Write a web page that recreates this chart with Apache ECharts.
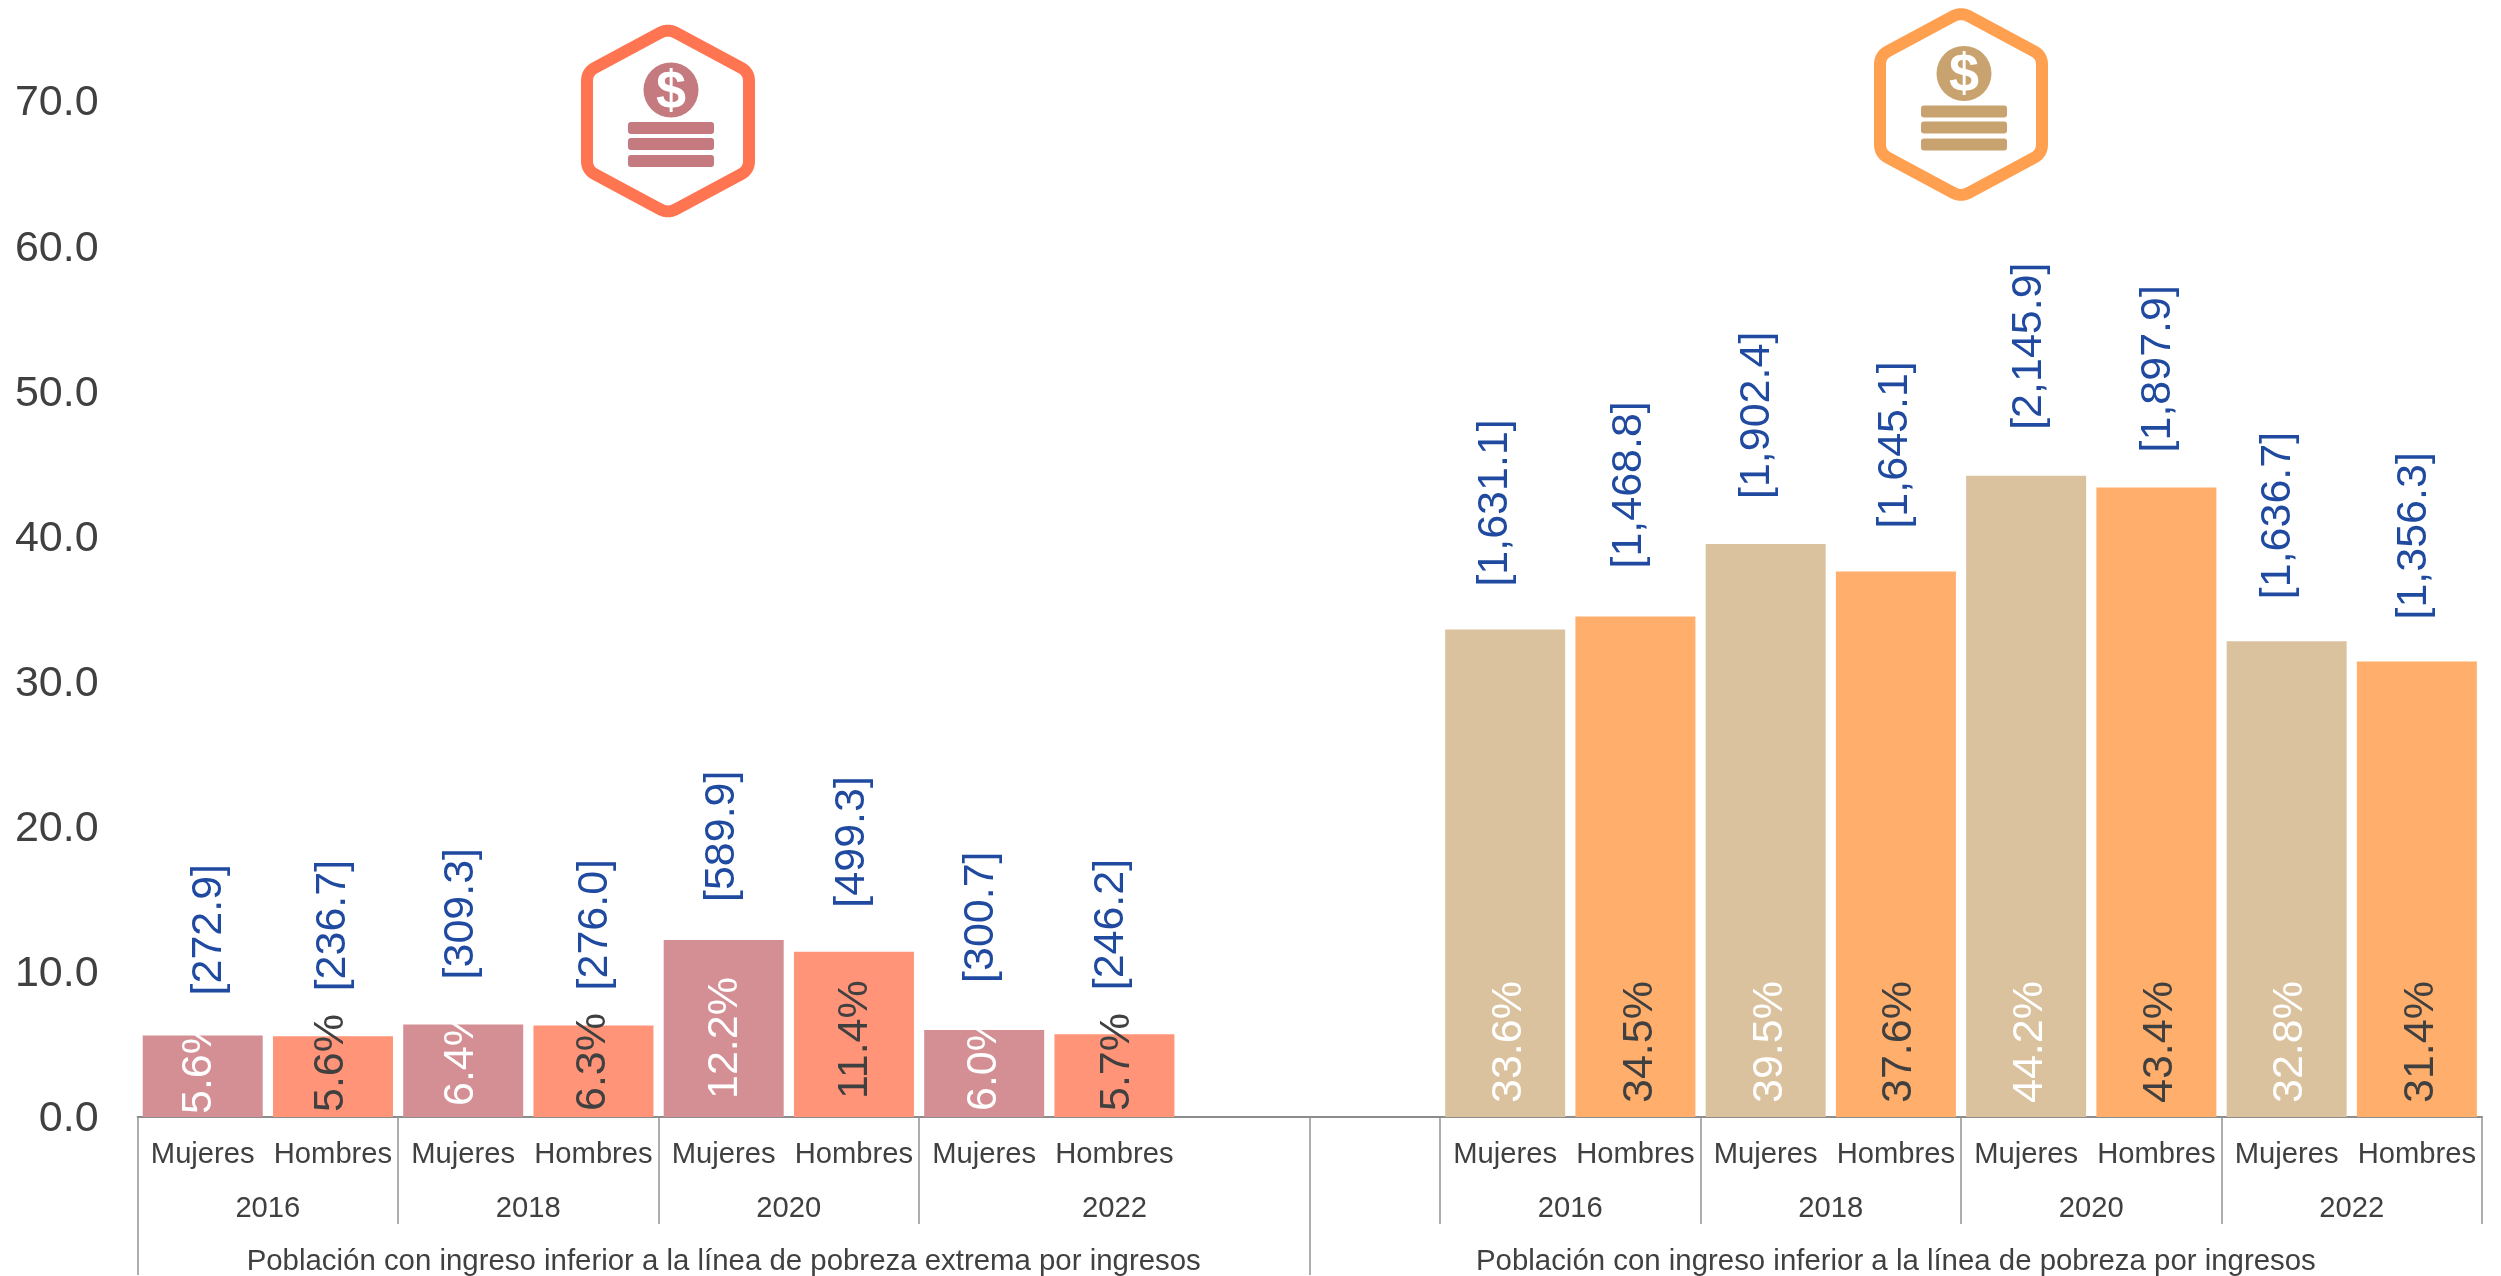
<!DOCTYPE html>
<html><head><meta charset="utf-8">
<style>html,body{margin:0;padding:0;background:#fff}#c{width:2501px;height:1276px}</style>
<script src="https://cdn.jsdelivr.net/npm/echarts@6/dist/echarts.min.js"></script>
</head><body><div id="c"></div>
<script>
const sexes = ['Mujeres','Hombres'];
const years = ['2016','2018','2020','2022'];
const groupNames = ['Población con ingreso inferior a la línea de pobreza extrema por ingresos','Población con ingreso inferior a la línea de pobreza por ingresos'];
const extremePct = [5.62,5.56,6.38,6.31,12.2,11.4,6.0,5.7];
const povertyPct = [33.6,34.5,39.5,37.6,44.2,43.4,32.8,31.4];
const extremePop = ['272.9','236.7','309.3','276.0','589.9','499.3','300.7','246.2'];
const povertyPop = ['1,631.1','1,468.8','1,902.4','1,645.1','2,145.9','1,897.9','1,636.7','1,356.3'];
const colors = {exW:'#D48F94',exM:'#FF9479',poW:'#DBC29E',poM:'#FFAE6B'};
// label placement (px): gap above bar, sideways shift, inset from the baseline
const popGap = [40,45,45,35,38,44,47,44, 43,48,45,43,46,35,42,42];
const popShift = [6,0,-2,2,-2,-2,-3,-3, -10,-6,-9,-1,3,2,-8,-3];
const pctInset = [3,5,11,6,18,18,6,6, 14,14,14,14,14,14,14,14];
const pctShift = [-4,-2,-2,0,1,1,0,3, 4,5,4,3,4,4,4,4];

const blank = [null,null];
const values = [...extremePct,...blank,...povertyPct];
const pops = [...extremePop,...blank,...povertyPop];
const cats = [];
for (let i=0;i<4;i++) cats.push(...sexes);
const catsAll = [...cats,'','',...cats];
const barColor = i => i<8 ? (i%2?colors.exM:colors.exW) : (i%2?colors.poM:colors.poW);
const font = 'Liberation Sans, Arial, sans-serif';
const textCol = '#404040', lineCol = '#929292';

let k=-1;
const mainData = values.map((v,i)=>{
  if(v===null) return null;
  k++;
  return {value:v,itemStyle:{color:barColor(i)},label:{distance:pctInset[k],offset:[0,pctShift[k]],color:(k%2)?textCol:'#FFFFFF',
    formatter:v.toFixed(1)+'%'}};
});
let j=-1;
const popData = values.map((v,i)=>{
  if(v===null) return null;
  j++;
  return {value:v,label:{distance:popGap[j],offset:[0,popShift[j]],formatter:'['+pops[i]+']'}};
});
const yearCenters=[1,3,5,7.5,11,13,15,17];
const yearOf={}; yearCenters.forEach((c,i)=>yearOf[c]=years[i%4]);
const groupCenters=[4.5,13.5];
const groupOf={}; groupCenters.forEach((c,i)=>groupOf[c]=groupNames[i]);

function roundedHex(pts,cut){
  const out=[];
  const n=pts.length;
  pts.forEach((p,i)=>{
    const a=pts[(i+n-1)%n], b=pts[(i+1)%n];
    const la=Math.hypot(a[0]-p[0],a[1]-p[1]), lb=Math.hypot(b[0]-p[0],b[1]-p[1]);
    const s=[p[0]+(a[0]-p[0])*cut/la,p[1]+(a[1]-p[1])*cut/la], e=[p[0]+(b[0]-p[0])*cut/lb,p[1]+(b[1]-p[1])*cut/lb];
    for(let t=0;t<=8;t++){
      const u=t/8;
      out.push([(1-u)*(1-u)*s[0]+2*u*(1-u)*p[0]+u*u*e[0],(1-u)*(1-u)*s[1]+2*u*(1-u)*p[1]+u*u*e[1]]);
    }
  });
  return out;
}
function icon(dx,dy,stroke,fill){
  const hex=[[668,28.5],[749,72],[749,170],[668,213.5],[587,170],[587,72]].map(p=>[p[0]+dx,p[1]+dy]);
  const els=[{type:'polygon',shape:{points:roundedHex(hex,9)},style:{fill:'#fff',stroke:stroke,lineWidth:12,lineJoin:'round'}},
    {type:'circle',shape:{cx:671+dx,cy:90+dy,r:27.5},style:{fill:fill}},
    {type:'text',x:671+dx,y:93+dy,style:{text:'$',fill:'#fff',font:'bold 54px '+font,align:'center',verticalAlign:'middle'}}];
  [122,138,155].forEach(y=>els.push({type:'rect',shape:{x:628+dx,y:y+dy,width:86,height:12,r:3},style:{fill:fill}}));
  return els;
}

const chart=echarts.init(document.getElementById('c'),null,{renderer:'canvas'});
chart.setOption({
  animation:false,
  backgroundColor:'#fff',
  grid:{left:137.6,right:19,top:101.6,bottom:158,containLabel:false},
  xAxis:[
    {type:'category',data:catsAll,position:'bottom',
     axisLine:{show:true,lineStyle:{color:'#8c8c8c',width:2}},axisTick:{show:false},
     axisLabel:{interval:0,color:textCol,fontFamily:font,fontSize:29.2,margin:23}},
    {type:'value',min:0,max:18,position:'bottom',splitLine:{show:false},axisLine:{show:false},
     axisTick:{show:true,inside:false,length:107,lineStyle:{color:lineCol,width:1.5},customValues:[0,2,4,6,9,10,12,14,16,18]},
     axisLabel:{color:textCol,fontFamily:font,fontSize:29.2,margin:77,customValues:yearCenters,formatter:v=>yearOf[v]||'',hideOverlap:false}},
    {type:'value',min:0,max:18,position:'bottom',splitLine:{show:false},axisLine:{show:false},
     axisTick:{show:true,inside:false,length:158,lineStyle:{color:lineCol,width:1.5},customValues:[0,9]},
     axisLabel:{color:textCol,fontFamily:font,fontSize:29.4,margin:130,customValues:groupCenters,formatter:v=>groupOf[v]||'',hideOverlap:false}}
  ],
  yAxis:{type:'value',min:0,max:70,interval:10,
    axisLine:{show:false},axisTick:{show:false},splitLine:{show:false},
    axisLabel:{color:textCol,fontFamily:font,fontSize:43,margin:39,verticalAlign:'top',lineHeight:4,formatter:v=>v.toFixed(1)}},
  series:[
    {type:'bar',name:'pct',data:mainData,barWidth:120,barGap:'-100%',
     label:{show:true,position:'insideBottom',rotate:90,align:'left',verticalAlign:'middle',fontFamily:font,fontSize:43}},
    {type:'bar',name:'pop',data:popData,barWidth:120,barGap:'-100%',itemStyle:{color:'transparent'},
     label:{show:true,position:'top',rotate:90,align:'left',verticalAlign:'middle',color:'#1F4AA0',fontFamily:font,fontSize:43}}
  ],
  graphic:{elements:[...icon(0,0,'#FF7552','#C47A7E'),...icon(1293,-16.5,'#FF9F50','#C9A36F')]}
});
</script></body></html>
